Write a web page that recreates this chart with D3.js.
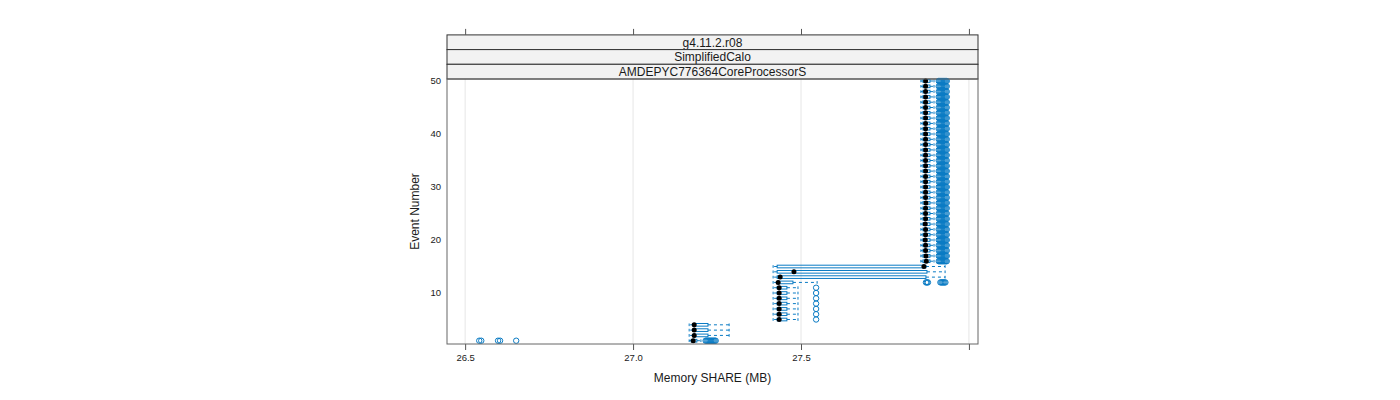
<!DOCTYPE html>
<html><head><meta charset="utf-8">
<script src="https://cdn.jsdelivr.net/npm/d3@7"></script>
<style>
body{margin:0;background:#fff;}
text{font-family:"Liberation Sans",Arial,sans-serif;}
</style></head>
<body><svg id="c" width="1400" height="400"></svg>
<script>
// ---- data ----
const stripLabels = ["g4.11.2.r08", "SimplifiedCalo", "AMDEPYC776364CoreProcessorS"];
const xTickValues = [26.5, 27.0, 27.5, 28.0];
const xTickLabels = ["26.5", "27.0", "27.5", ""];
const yTickValues = [10, 20, 30, 40, 50];
const events = d3.range(1, 51);
// per-event box stats (MB)
const whiskLo = [27.167,27.167,27.167,27.167, 27.417,27.417,27.417,27.417,27.417,27.417,27.417, 27.417,27.417,27.417,27.417,
  ...Array(35).fill(27.857)];
const q1 = [27.173,27.179,27.179,27.179, 27.429,27.429,27.429,27.429,27.429,27.429,27.429, 27.429,27.429,27.429,27.429,
  ...Array(35).fill(27.863)];
const median = [27.179,27.182,27.182,27.182, 27.435,27.435,27.435,27.435,27.435,27.435,27.435, 27.432,27.438,27.479,27.866,
  27.873,27.872,27.871,27.871,27.870,27.871,27.871,27.870,27.871,27.871,27.871,27.872,27.871,27.871,27.871,27.871,27.871,27.871,27.871,27.871,
  27.871,27.871,27.871,27.871,27.871,27.871,27.871,27.871,27.871,27.871,27.871,27.871,27.871,27.871,27.871];
const q3 = [27.190,27.223,27.223,27.223, 27.458,27.458,27.458,27.458,27.458,27.458,27.458, 27.476,27.872,27.875,27.872,
  ...Array(35).fill(27.884)];
const whiskHi = [27.202,27.286,27.286,27.286, 27.491,27.491,27.491,27.491,27.491,27.491,27.491, 27.548,27.929,27.929,27.929,
  ...Array(35).fill(27.896)];
const outliers = [
  [26.542,26.548,26.598,26.604,26.652,27.216,27.219,27.222,27.225,27.228,27.231,27.234,27.237,27.240,27.243,27.246],
  [],[],[],
  [27.545],[27.545],[27.545],[27.545],[27.545],[27.545],[27.545],
  [27.872,27.875,27.878,27.915,27.918,27.921,27.924,27.927,27.930],
  [],[],[],
  ...Array.from({length:35}, () => [27.910,27.913,27.916,27.919,27.922,27.925,27.928,27.931,27.934])
];
const xLabel = "Memory SHARE (MB)";
const yLabel = "Event Number";

// ---- layout ----
const svg = d3.select("#c");
const P = {l:447, r:978, t:79, b:344};
const stripH = 14.7;
const x = d3.scaleLinear().domain([26.446, 28.027]).range([P.l, P.r]);
const y = d3.scaleLinear().domain([0.38, 50.38]).range([P.b, P.t]);
const blue = "#0a7bc4";
const bh = (y(0) - y(0.5)); // box height (box.ratio 1)

// grid
svg.append("g").selectAll("line").data(xTickValues).join("line")
  .attr("x1", d => x(d)).attr("x2", d => x(d)).attr("y1", P.t).attr("y2", P.b)
  .attr("stroke", "#e6e6e6").attr("stroke-width", 1);

// strips
stripLabels.forEach((s, i) => {
  const y0 = P.t - stripH * (stripLabels.length - i);
  svg.append("rect").attr("x", P.l).attr("y", y0).attr("width", P.r - P.l).attr("height", stripH)
    .attr("fill", "#f2f2f2").attr("stroke", "#333").attr("stroke-width", 1);
  svg.append("text").attr("x", (P.l + P.r) / 2).attr("y", y0 + stripH / 2 + 4.3)
    .attr("text-anchor", "middle").attr("font-size", 12).attr("fill", "#1a1a1a").text(s);
});

// axes
const xb = svg.append("g").attr("transform", `translate(0,${P.b})`)
  .call(d3.axisBottom(x).tickValues(xTickValues).tickSize(6).tickPadding(4)
    .tickFormat((d, i) => xTickLabels[i]));
xb.select(".domain").remove();
xb.selectAll("line").attr("stroke", "#555");
xb.selectAll("text").attr("font-size", 9.5).attr("fill", "#1a1a1a").style("font-family", "Liberation Sans, Arial");
const xt = svg.append("g").attr("transform", `translate(0,${P.t - stripH * 3})`)
  .call(d3.axisTop(x).tickValues(xTickValues).tickSize(6).tickFormat(""));
xt.select(".domain").remove();
xt.selectAll("line").attr("stroke", "#555");

const yl = svg.append("g").attr("transform", `translate(${P.l},-1)`)
  .call(d3.axisLeft(y).tickValues(yTickValues).tickSize(0).tickPadding(6));
yl.select(".domain").remove();
yl.selectAll("text").attr("font-size", 9.5).attr("fill", "#1a1a1a").style("font-family", "Liberation Sans, Arial");

// boxes
const g = svg.append("g");
events.forEach((e, i) => {
  const cy = y(e);
  // umbrellas (dashed)
  [[q1[i], whiskLo[i]], [q3[i], whiskHi[i]]].forEach(([a, b]) => {
    g.append("line").attr("x1", x(a)).attr("x2", x(b)).attr("y1", cy).attr("y2", cy)
      .attr("stroke", blue).attr("stroke-dasharray", "3,3").attr("stroke-width", 1);
    g.append("line").attr("x1", x(b)).attr("x2", x(b)).attr("y1", cy - bh / 2).attr("y2", cy + bh / 2)
      .attr("stroke", blue).attr("stroke-width", 1);
  });
  g.append("rect").attr("x", x(q1[i])).attr("y", cy - bh / 2)
    .attr("width", Math.max(0.5, x(q3[i]) - x(q1[i]))).attr("height", bh)
    .attr("fill", "none").attr("stroke", blue).attr("stroke-width", 1);
  outliers[i].forEach(o => {
    g.append("circle").attr("cx", x(o)).attr("cy", cy).attr("r", 2.7)
      .attr("fill", "none").attr("stroke", blue).attr("stroke-width", 1);
  });
  g.append("circle").attr("cx", x(median[i])).attr("cy", cy).attr("r", 2.5).attr("fill", "#000");
});

// panel border
svg.append("rect").attr("x", P.l).attr("y", P.t).attr("width", P.r - P.l).attr("height", P.b - P.t)
  .attr("fill", "none").attr("stroke", "#666").attr("stroke-width", 1);

// axis titles
svg.append("text").attr("x", (P.l + P.r) / 2).attr("y", 382).attr("text-anchor", "middle")
  .attr("font-size", 12).attr("fill", "#1a1a1a").text(xLabel);
svg.append("text").attr("transform", `translate(419,${(P.t + P.b) / 2}) rotate(-90)`)
  .attr("text-anchor", "middle").attr("font-size", 12).attr("fill", "#1a1a1a").text(yLabel);
</script></body></html>
